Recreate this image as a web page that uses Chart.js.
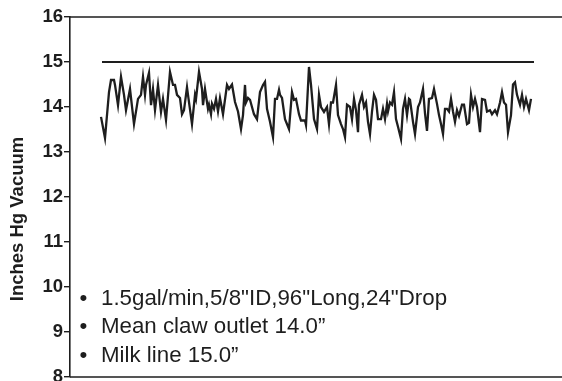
<!DOCTYPE html>
<html>
<head>
<meta charset="utf-8">
<script src="https://cdn.jsdelivr.net/npm/chart.js@4/dist/chart.umd.min.js"></script>
<style>
html,body{margin:0;padding:0;background:#fff;}
canvas{display:block;}
</style>
</head>
<body>
<canvas id="c" width="562" height="381"></canvas>
<script>
// Sample time (arbitrary units along the trace)
const sampleTime = [31,35,39,41,44,45,48,51,54,56,60,64,68,71,73,75,76,79,81,83,85,88,91,93,96,100,103,105,107,110,112,114,117,118,122,125,126,129,132,133,135,138,139,141,142,144,146,148,150,153,157,159,162,165,168,171,173,175,176,178,180,184,187,190,193,195,197,200,203,205,207,209,210,212,215,219,222,224,226,229,231,235,236,239,241,244,247,249,251,254,257,259,261,263,266,268,271,273,275,277,280,282,284,286,288,289,292,294,296,298,300,302,304,306,308,311,313,315,317,318,320,322,324,326,328,331,333,335,337,339,340,343,345,348,350,353,355,357,359,362,364,367,369,371,373,375,377,379,381,383,385,387,389,392,394,397,399,401,403,405,407,410,412,415,417,420,422,425,427,430,432,434,436,438,441,443,445,447,450,452,454,456,459,461,463];
// Claw outlet vacuum (inches Hg)
const clawVacuum = [13.78,13.31,14.33,14.6,14.6,14.49,14.04,14.67,14.27,13.93,14.4,13.62,14.18,14.27,14.67,14.27,14.49,14.76,14.04,14.4,13.93,14.49,13.89,14.18,13.71,14.78,14.49,14.49,14.27,14.2,13.84,13.93,14.44,14.27,13.62,14.27,14.18,14.78,14.4,14.04,14.4,13.96,14.05,13.84,14.07,13.96,14.18,13.9,14.2,13.84,14.49,14.4,14.5,14.11,13.9,13.51,13.82,14.49,14.1,14.2,14.16,13.84,13.73,14.33,14.49,14.56,13.96,13.67,13.33,14.18,14.18,14.38,14.27,14.2,13.73,13.51,14.33,14.16,14.18,13.84,13.7,13.7,13.6,14.89,14.49,13.73,13.51,14.27,14.0,13.89,14.0,13.62,14.1,14.1,14.49,13.82,13.62,13.51,13.33,14.05,14.0,13.73,14.18,13.93,13.44,14.05,14.27,14.0,14.1,13.67,13.4,13.9,14.27,14.16,13.73,13.73,13.96,13.73,14.07,13.9,14.1,14.05,14.33,13.73,13.56,13.29,13.96,14.18,13.82,14.18,14.16,13.67,13.4,14.0,14.1,14.4,13.86,13.47,14.18,14.2,14.4,14.07,13.82,13.62,13.4,13.96,13.96,13.9,14.18,13.9,13.67,13.93,13.8,14.05,14.05,13.62,13.65,14.27,14.0,14.18,14.0,13.44,14.18,14.16,13.9,13.93,13.84,13.93,13.84,14.1,14.33,14.1,14.05,13.44,13.82,14.5,14.55,14.27,14.05,14.27,14.0,14.18,13.93,14.18];
// Milk line vacuum (inches Hg)
const milkLineTime = [32, 464];
const milkLineVacuum = [15.0, 15.0];
// Axis
const yTicksMin = 8, yTicksMax = 16;
const timeMin = 0, timeMax = 488;
const yTitle = 'Inches Hg Vacuum';
const notes = ['1.5gal/min,5/8"ID,96"Long,24"Drop', 'Mean claw outlet 14.0\u201D', 'Milk line 15.0\u201D'];

const FONT = '"Liberation Sans", Arial, Helvetica, sans-serif';
const INK = '#1e1e1e';

const framePlugin = {
  id: 'frame',
  afterDraw(chart) {
    const {ctx, chartArea: a} = chart;
    ctx.save();
    ctx.strokeStyle = INK;
    ctx.lineWidth = 1.6;
    ctx.beginPath();
    ctx.moveTo(a.left, a.top); ctx.lineTo(chart.width, a.top);
    ctx.moveTo(a.left, a.bottom); ctx.lineTo(chart.width, a.bottom);
    ctx.stroke();
    // y axis title
    ctx.fillStyle = INK;
    ctx.font = 'bold 18.5px ' + FONT;
    ctx.translate(22.5, 219);
    ctx.rotate(-Math.PI / 2);
    ctx.textAlign = 'center';
    ctx.textBaseline = 'alphabetic';
    ctx.fillText(yTitle, 0, 0);
    ctx.restore();
    // notes
    ctx.save();
    ctx.fillStyle = INK;
    ctx.font = '22.3px ' + FONT;
    ctx.textBaseline = 'alphabetic';
    const base = [305, 333, 362];
    notes.forEach((t, i) => {
      ctx.textAlign = 'center';
      ctx.fillText('\u2022', 83.5, base[i]);
      ctx.textAlign = 'left';
      ctx.fillText(t, 101, base[i]);
    });
    ctx.restore();
  }
};

new Chart(document.getElementById('c'), {
  type: 'line',
  data: {
    datasets: [
      {
        data: sampleTime.map((t, i) => ({x: t, y: clawVacuum[i]})),
        borderColor: INK, borderWidth: 2.3, pointRadius: 0, tension: 0, fill: false
      },
      {
        data: milkLineTime.map((t, i) => ({x: t, y: milkLineVacuum[i]})),
        borderColor: INK, borderWidth: 2.1, pointRadius: 0, tension: 0, fill: false
      }
    ]
  },
  options: {
    responsive: false,
    animation: false,
    layout: {padding: {left: 0, top: 17, right: 4, bottom: 4}},
    plugins: {legend: {display: false}, tooltip: {enabled: false}},
    scales: {
      x: {type: 'linear', min: timeMin, max: timeMax, display: false},
      y: {
        min: yTicksMin, max: yTicksMax,
        ticks: {stepSize: 1, color: INK, padding: 1, font: {family: FONT, size: 18.5, weight: 'bold'}},
        grid: {drawOnChartArea: false, tickLength: 6, color: INK, lineWidth: 1.4},
        border: {display: true, color: INK, width: 1.6},
        afterFit(s) { s.width = 70; s.paddingTop = 0; s.paddingBottom = 0; }
      }
    }
  },
  plugins: [framePlugin]
});
</script>
</body>
</html>
